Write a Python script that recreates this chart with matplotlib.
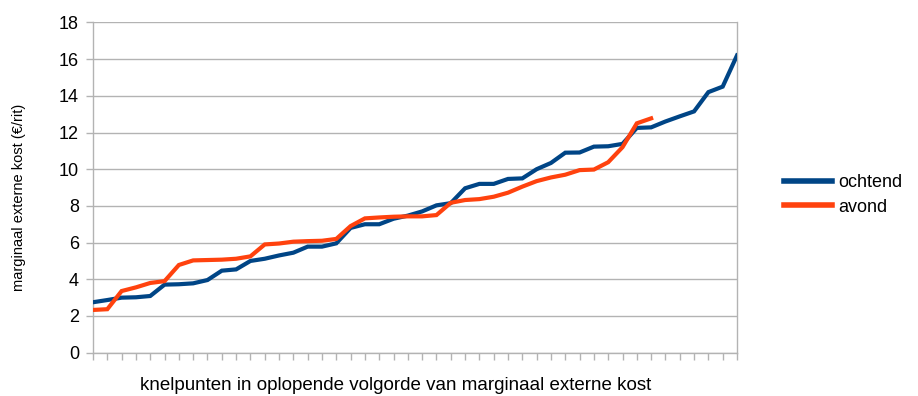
import matplotlib
matplotlib.use("Agg")
import matplotlib.pyplot as plt
import numpy as np

plt.rcParams['font.family'] = ['Liberation Sans', 'DejaVu Sans']

# Marginal external cost per bottleneck, sorted ascending (EUR per trip)
ochtend = [2.75, 2.87, 3.0, 3.02, 3.09, 3.71, 3.73, 3.78, 3.96, 4.47,
           4.54, 5.0, 5.12, 5.3, 5.45, 5.78, 5.78, 5.96, 6.8, 7.0,
           7.0, 7.3, 7.47, 7.7, 8.03, 8.15, 8.96, 9.2, 9.2, 9.47,
           9.5, 10.0, 10.34, 10.9, 10.91, 11.23, 11.25, 11.38, 12.25, 12.28,
           12.6, 12.88, 13.15, 14.2, 14.5, 16.2]
avond = [2.33, 2.37, 3.36, 3.56, 3.8, 3.9, 4.78, 5.03, 5.05, 5.07,
         5.12, 5.25, 5.9, 5.95, 6.05, 6.08, 6.1, 6.2, 6.9, 7.32,
         7.37, 7.41, 7.43, 7.43, 7.5, 8.17, 8.32, 8.37, 8.5, 8.72,
         9.05, 9.35, 9.55, 9.7, 9.95, 9.98, 10.38, 11.2, 12.5, 12.77]
series_names = ["ochtend", "avond"]
y_ticks = list(range(0, 19, 2))

BLUE = "#004586"
ORANGE = "#ff420e"
GRAY = "#b3b3b3"

fig = plt.figure(figsize=(9.18, 3.96), dpi=100)
ax = fig.add_axes([93 / 918, 1 - 352.7 / 396, (737 - 93) / 918, (352.7 - 22.4) / 396])

ax.plot(np.arange(len(ochtend)), ochtend, color=BLUE, lw=3.0,
        solid_joinstyle='miter', label=series_names[0], zorder=3)
ax.plot(np.arange(len(avond)), avond, color=ORANGE, lw=3.0,
        solid_joinstyle='miter', label=series_names[1], zorder=3)

ax.set_xlim(0, len(ochtend) - 1)
ax.set_ylim(0, 18)
ax.set_yticks(y_ticks)
ax.set_yticklabels([str(v) for v in y_ticks], fontsize=13, color="#000000")
ax.set_xticks(np.arange(len(ochtend)))
ax.set_xticklabels([])
ax.tick_params(axis='both', direction='out', length=5, width=1, color=GRAY)
ax.tick_params(axis='y', pad=5)

ax.grid(axis='y', color=GRAY, lw=1)
ax.set_axisbelow(True)
for s in ax.spines.values():
    s.set_color(GRAY)
    s.set_linewidth(1)
ax.spines['top'].set_visible(False)

ax.set_ylabel("marginaal externe kost (€/rit)", fontsize=10.5)
ax.yaxis.set_label_coords(-0.104, 0.47)

fig.text(396 / 918, 1 - 385 / 396, "knelpunten in oplopende volgorde van marginaal externe kost",
         ha='center', va='center', fontsize=13.5)

leg = ax.legend(loc='center left', bbox_to_anchor=(770 / 918, 1 - 195 / 396),
                bbox_transform=fig.transFigure, frameon=False, fontsize=13,
                handlelength=2.65, handletextpad=0.35, labelspacing=0.4,
                borderpad=0.3)
for line in leg.get_lines():
    line.set_linewidth(4)

fig.savefig("out.png", dpi=100)
